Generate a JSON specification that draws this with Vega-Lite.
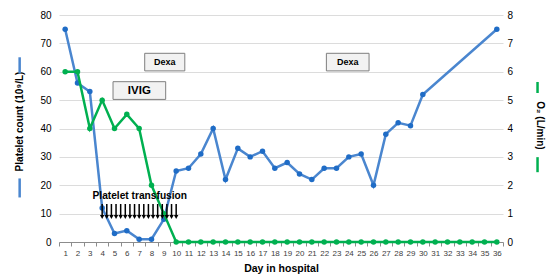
{
  "$schema": "https://vega.github.io/schema/vega-lite/v6.json",
  "width": 444,
  "height": 227,
  "autosize": {"type": "none"},
  "padding": {"left": 59, "top": 15, "right": 50, "bottom": 35},
  "background": "white",
  "config": {
    "view": {"stroke": null},
    "font": "Liberation Sans"
  },
  "datasets": {
    "main": [
      {"day": 1, "platelet": 75, "o2": 6},
      {"day": 2, "platelet": 56, "o2": 6},
      {"day": 3, "platelet": 53, "o2": 4},
      {"day": 4, "platelet": 12, "o2": 5},
      {"day": 5, "platelet": 3, "o2": 4},
      {"day": 6, "platelet": 4, "o2": 4.5},
      {"day": 7, "platelet": 1, "o2": 4},
      {"day": 8, "platelet": 1, "o2": 2},
      {"day": 9, "platelet": 8, "o2": 1},
      {"day": 10, "platelet": 25, "o2": 0},
      {"day": 11, "platelet": 26, "o2": 0},
      {"day": 12, "platelet": 31, "o2": 0},
      {"day": 13, "platelet": 40, "o2": 0},
      {"day": 14, "platelet": 22, "o2": 0},
      {"day": 15, "platelet": 33, "o2": 0},
      {"day": 16, "platelet": 30, "o2": 0},
      {"day": 17, "platelet": 32, "o2": 0},
      {"day": 18, "platelet": 26, "o2": 0},
      {"day": 19, "platelet": 28, "o2": 0},
      {"day": 20, "platelet": 24, "o2": 0},
      {"day": 21, "platelet": 22, "o2": 0},
      {"day": 22, "platelet": 26, "o2": 0},
      {"day": 23, "platelet": 26, "o2": 0},
      {"day": 24, "platelet": 30, "o2": 0},
      {"day": 25, "platelet": 31, "o2": 0},
      {"day": 26, "platelet": 20, "o2": 0},
      {"day": 27, "platelet": 38, "o2": 0},
      {"day": 28, "platelet": 42, "o2": 0},
      {"day": 29, "platelet": 41, "o2": 0},
      {"day": 30, "platelet": 52, "o2": 0},
      {"day": 31, "platelet": null, "o2": 0},
      {"day": 32, "platelet": null, "o2": 0},
      {"day": 33, "platelet": null, "o2": 0},
      {"day": 34, "platelet": null, "o2": 0},
      {"day": 35, "platelet": null, "o2": 0},
      {"day": 36, "platelet": 75, "o2": 0}
    ],
    "boxes": [
      {"label": "Dexa", "x1": 7.45, "x2": 10.7, "y1": 60.3, "y2": 66.5, "size": 9},
      {"label": "Dexa", "x1": 22.18, "x2": 25.64, "y1": 60.3, "y2": 66.5, "size": 9},
      {"label": "IVIG", "x1": 4.88, "x2": 9.15, "y1": 50.25, "y2": 56.5, "size": 11.5}
    ],
    "arrows": [
      {"day": 4.0}, {"day": 4.375}, {"day": 4.75}, {"day": 5.125}, {"day": 5.5},
      {"day": 5.875}, {"day": 6.25}, {"day": 6.625}, {"day": 7.0}, {"day": 7.375},
      {"day": 7.75}, {"day": 8.125}, {"day": 8.5}, {"day": 8.875}, {"day": 9.25},
      {"day": 9.625}, {"day": 10.0}
    ]
  },
  "layer": [
    {
      "layer": [
        {
          "data": {"name": "boxes"},
          "mark": {"type": "rect", "fill": "#f2f2f2", "stroke": "#7f7f7f", "strokeWidth": 1},
          "encoding": {
            "x": {"field": "x1", "type": "quantitative", "scale": {"domain": [0.5, 36.5], "nice": false, "zero": false},
              "axis": {
                "title": "Day in hospital",
                "titleFont": "Liberation Sans", "titleFontSize": 10.5, "titleFontWeight": "bold", "titleColor": "#000",
                "titlePadding": 6,
                "values": [0.5,1.5,2.5,3.5,4.5,5.5,6.5,7.5,8.5,9.5,10.5,11.5,12.5,13.5,14.5,15.5,16.5,17.5,18.5,19.5,20.5,21.5,22.5,23.5,24.5,25.5,26.5,27.5,28.5,29.5,30.5,31.5,32.5,33.5,34.5,35.5,36.5],
                "tickCount": 50,
                "labelExpr": "datum.value < 36 ? format(datum.value + 0.5, 'd') : ''",
                "labelOffset": 6.17,
                "labelFlush": false, "labelOverlap": false, "labelBound": false,
                "labelFontSize": 8, "labelColor": "#404040", "labelPadding": 3,
                "grid": false, "domainColor": "#8c8c8c", "tickColor": "#8c8c8c", "tickSize": 4
              }},
            "x2": {"field": "x2"},
            "y": {"field": "y1", "type": "quantitative", "scale": {"domain": [0, 80], "nice": false},
              "axis": {
                "title": "Platelet count (10⁹/L)",
                "titleFontSize": 10, "titleFontWeight": "bold", "titleColor": "#000",
                "titlePadding": 15, "titleY": 106,
                "values": [0,10,20,30,40,50,60,70,80],
                "tickCount": 20,
                "format": "d",
                "labelOverlap": false,
                "labelFontSize": 10, "labelColor": "#000", "labelPadding": 8,
                "ticks": false, "domain": false,
                "grid": true, "gridColor": "#dcdcdc", "gridWidth": 1
              }},
            "y2": {"field": "y2"}
          }
        },
        {
          "data": {"name": "boxes"},
          "mark": {"type": "text", "fontWeight": "bold", "color": "#000", "baseline": "middle", "align": "center"},
          "transform": [
            {"calculate": "(datum.x1 + datum.x2) / 2", "as": "xc"},
            {"calculate": "(datum.y1 + datum.y2) / 2", "as": "yc"}
          ],
          "encoding": {
            "x": {"field": "xc", "type": "quantitative"},
            "y": {"field": "yc", "type": "quantitative"},
            "text": {"field": "label"},
            "size": {"field": "size", "type": "quantitative", "scale": null, "legend": null}
          }
        },
        {
          "data": {"name": "main"},
          "transform": [{"filter": "datum.platelet != null"}],
          "mark": {"type": "line", "color": "#4a86cf", "strokeWidth": 2.5},
          "encoding": {
            "x": {"field": "day", "type": "quantitative"},
            "y": {"field": "platelet", "type": "quantitative"}
          }
        },
        {
          "data": {"name": "main"},
          "transform": [{"filter": "datum.platelet != null"}],
          "mark": {"type": "point", "filled": true, "color": "#1f6cc6", "size": 30, "opacity": 1},
          "encoding": {
            "x": {"field": "day", "type": "quantitative"},
            "y": {"field": "platelet", "type": "quantitative"}
          }
        }
      ]
    },
    {
      "layer": [
        {
          "data": {"name": "main"},
          "mark": {"type": "line", "color": "#00b050", "strokeWidth": 2.5},
          "encoding": {
            "x": {"field": "day", "type": "quantitative"},
            "y": {"field": "o2", "type": "quantitative", "scale": {"domain": [0, 8], "nice": false},
              "axis": {
                "orient": "right",
                "title": "O₂ (L/min)",
                "titleFontSize": 10, "titleFontWeight": "bold", "titleColor": "#000",
                "titlePadding": 22, "titleY": 110,
                "values": [0,1,2,3,4,5,6,7,8],
                "tickCount": 20,
                "format": "d",
                "labelOverlap": false,
                "labelFontSize": 10, "labelColor": "#000", "labelPadding": 4,
                "ticks": false, "domain": false, "grid": false
              }}
          }
        },
        {
          "data": {"name": "main"},
          "mark": {"type": "point", "filled": true, "color": "#00b050", "size": 30, "opacity": 1},
          "encoding": {
            "x": {"field": "day", "type": "quantitative"},
            "y": {"field": "o2", "type": "quantitative"}
          }
        }
      ]
    },
    {
      "layer": [
        {
          "data": {"name": "arrows"},
          "mark": {"type": "rule", "color": "#000", "strokeWidth": 1.5},
          "encoding": {
            "x": {"field": "day", "type": "quantitative"},
            "y": {"datum": 13.4, "type": "quantitative", "scale": {"domain": [0, 80], "nice": false}, "axis": null},
            "y2": {"datum": 9}
          }
        },
        {
          "data": {"name": "arrows"},
          "mark": {"type": "point", "shape": "triangle-down", "filled": true, "color": "#000", "size": 20, "opacity": 1},
          "encoding": {
            "x": {"field": "day", "type": "quantitative"},
            "y": {"datum": 8.8}
          }
        },
        {
          "data": {"values": [{"label": "Platelet transfusion", "x": 7.05, "y": 16.3}]},
          "mark": {"type": "text", "fontWeight": "bold", "fontSize": 10.2, "color": "#000", "align": "center", "baseline": "middle"},
          "encoding": {
            "x": {"field": "x", "type": "quantitative"},
            "y": {"field": "y", "type": "quantitative"},
            "text": {"field": "label"}
          }
        },
        {
          "data": {"values": [{"key": "platelet", "x": -2.69, "y1": 59.4, "y2": 65.1}, {"key": "platelet", "x": -2.69, "y1": 15.7, "y2": 22.4}]},
          "mark": {"type": "rule", "color": "#4a86cf", "strokeWidth": 2.5},
          "encoding": {
            "x": {"field": "x", "type": "quantitative"},
            "y": {"field": "y1", "type": "quantitative"},
            "y2": {"field": "y2"}
          }
        },
        {
          "data": {"values": [{"key": "o2", "x": 39.3, "y1": 52.5, "y2": 56.4}, {"key": "o2", "x": 39.3, "y1": 24.6, "y2": 29.9}]},
          "mark": {"type": "rule", "color": "#00b050", "strokeWidth": 2.5},
          "encoding": {
            "x": {"field": "x", "type": "quantitative"},
            "y": {"field": "y1", "type": "quantitative"},
            "y2": {"field": "y2"}
          }
        }
      ]
    }
  ],
  "resolve": {"scale": {"y": "independent"}}
}
